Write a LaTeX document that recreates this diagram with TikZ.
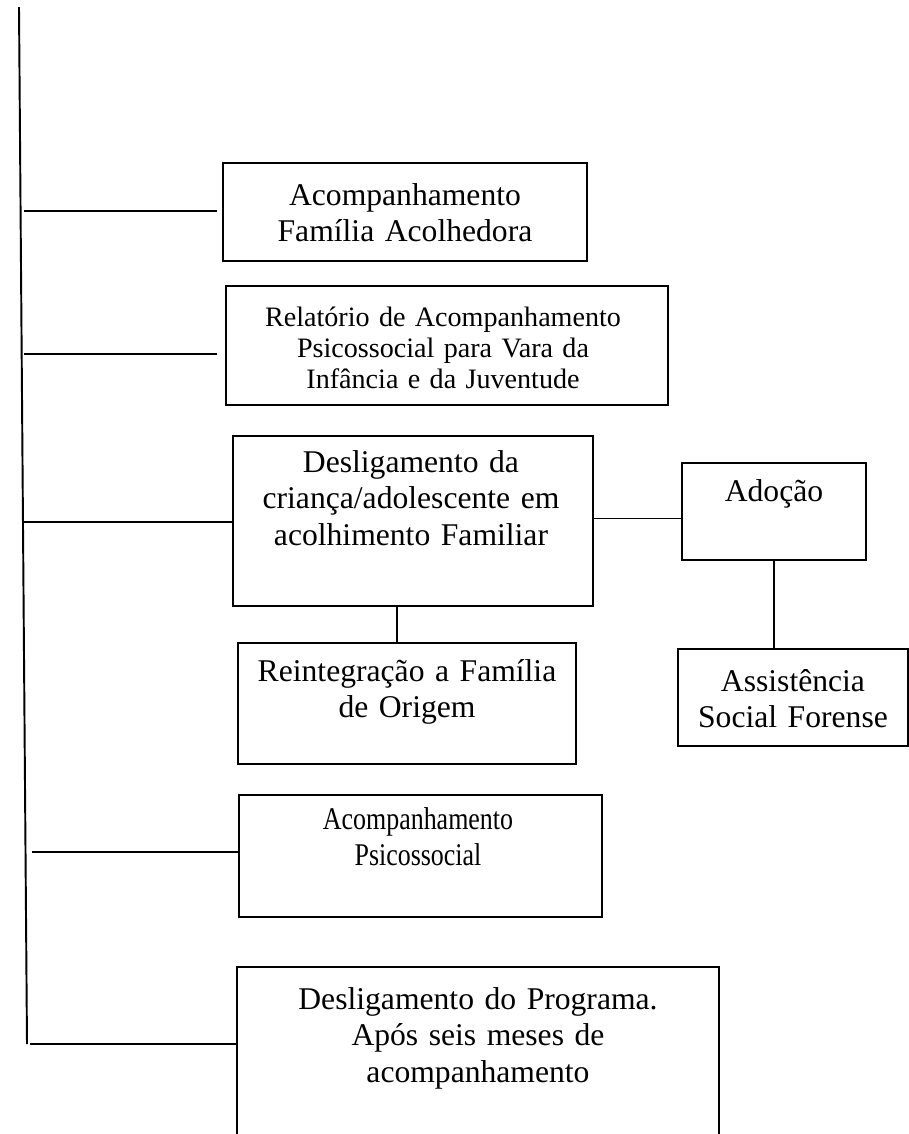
\documentclass[tikz,border=0pt]{standalone}
\usepackage{fontspec}
\setmainfont{Liberation Serif}
\newfontfamily\narrowserif[FakeStretch=0.82]{Liberation Serif}

\begin{document}
\begin{tikzpicture}[
  x=0.02cm, y=-0.02cm,
  line width=1.1pt,
  box/.style={rectangle, draw, inner sep=0pt},
  lbl/.style={align=center, anchor=base, inner sep=0pt, text width=8cm, font=\fontsize{18}{20.8}\selectfont},
  small/.style={font=\fontsize{16}{17.9}\selectfont},
  narrow/.style={font=\narrowserif\fontsize{18}{20.8}\selectfont}
]
\useasboundingbox (0,0) rectangle (909,1134);
\clip (0,0) rectangle (909,1134);

% Trunk
\coordinate (top) at (19,7);
\coordinate (bot) at (27,1044);
\draw (top) -- (bot);

% Acompanhamento
\node[box, minimum width=7.28cm, minimum height=1.96cm] (fam) at (405,212) {};
\node[lbl] (famtxt) at (405,205) {Acompanhamento\\Família Acolhedora};

% Relatorio
\node[box, minimum width=8.84cm, minimum height=2.38cm] (rel) at (447,345.5) {};
\node[lbl, small] (reltxt) at (443,326) {Relatório de Acompanhamento\\Psicossocial para Vara da\\Infância e da Juventude};

% Desligamento
\node[box, minimum width=7.2cm, minimum height=3.4cm] (desl) at (413,521) {};
\node[lbl] (desltxt) at (411,472) {Desligamento da\\criança/adolescente em\\acolhimento Familiar};

% Adocao
\node[box, minimum width=3.68cm, minimum height=1.94cm] (adoc) at (774,511.5) {};
\node[lbl] (adoctxt) at (774,501) {Adoção};

% Assistencia
\node[box, minimum width=4.6cm, minimum height=1.94cm] (assist) at (793,697.5) {};
\node[lbl] (assisttxt) at (793,691) {Assistência\\Social Forense};

% Reintegracao
\node[box, minimum width=6.76cm, minimum height=2.42cm] (reint) at (407,703.5) {};
\node[lbl] (reinttxt) at (407,681) {Reintegração a Família\\de Origem};

% Psicossocial
\node[box, minimum width=7.26cm, minimum height=2.44cm] (psic) at (420.5,856) {};
\node[lbl, narrow] (psictxt) at (418,829) {Acompanhamento\\Psicossocial};

% Programa
\node[box, minimum width=9.64cm, minimum height=4.66cm] (progr) at (478,1083.5) {};
\node[lbl] (progrtxt) at (478,1009) {Desligamento do Programa.\\Após seis meses de\\acompanhamento};

% Branches
\coordinate (b1) at (24,211);
\coordinate (b2) at (24,354);
\coordinate (b3) at (23,522);
\coordinate (b4) at (32,852);
\coordinate (b5) at (30,1044);
\draw[shorten >=0.1cm] (b1) -- (b1 -| fam.west);
\draw[shorten >=0.16cm] (b2) -- (b2 -| rel.west);
\draw (b3) -- (b3 -| desl.west);
\draw (b4) -- (b4 -| psic.west);
\draw (b5) -- (b5 -| progr.west);

% Links
\draw ([yshift=0.05cm]desl.east) -- ([yshift=0.05cm]desl.east -| adoc.west);
\draw (adoc.south) -- (adoc.south |- assist.north);
\draw ([xshift=-0.32cm]desl.south) -- ([xshift=-0.32cm]desl.south |- reint.north);

\end{tikzpicture}
\end{document}
